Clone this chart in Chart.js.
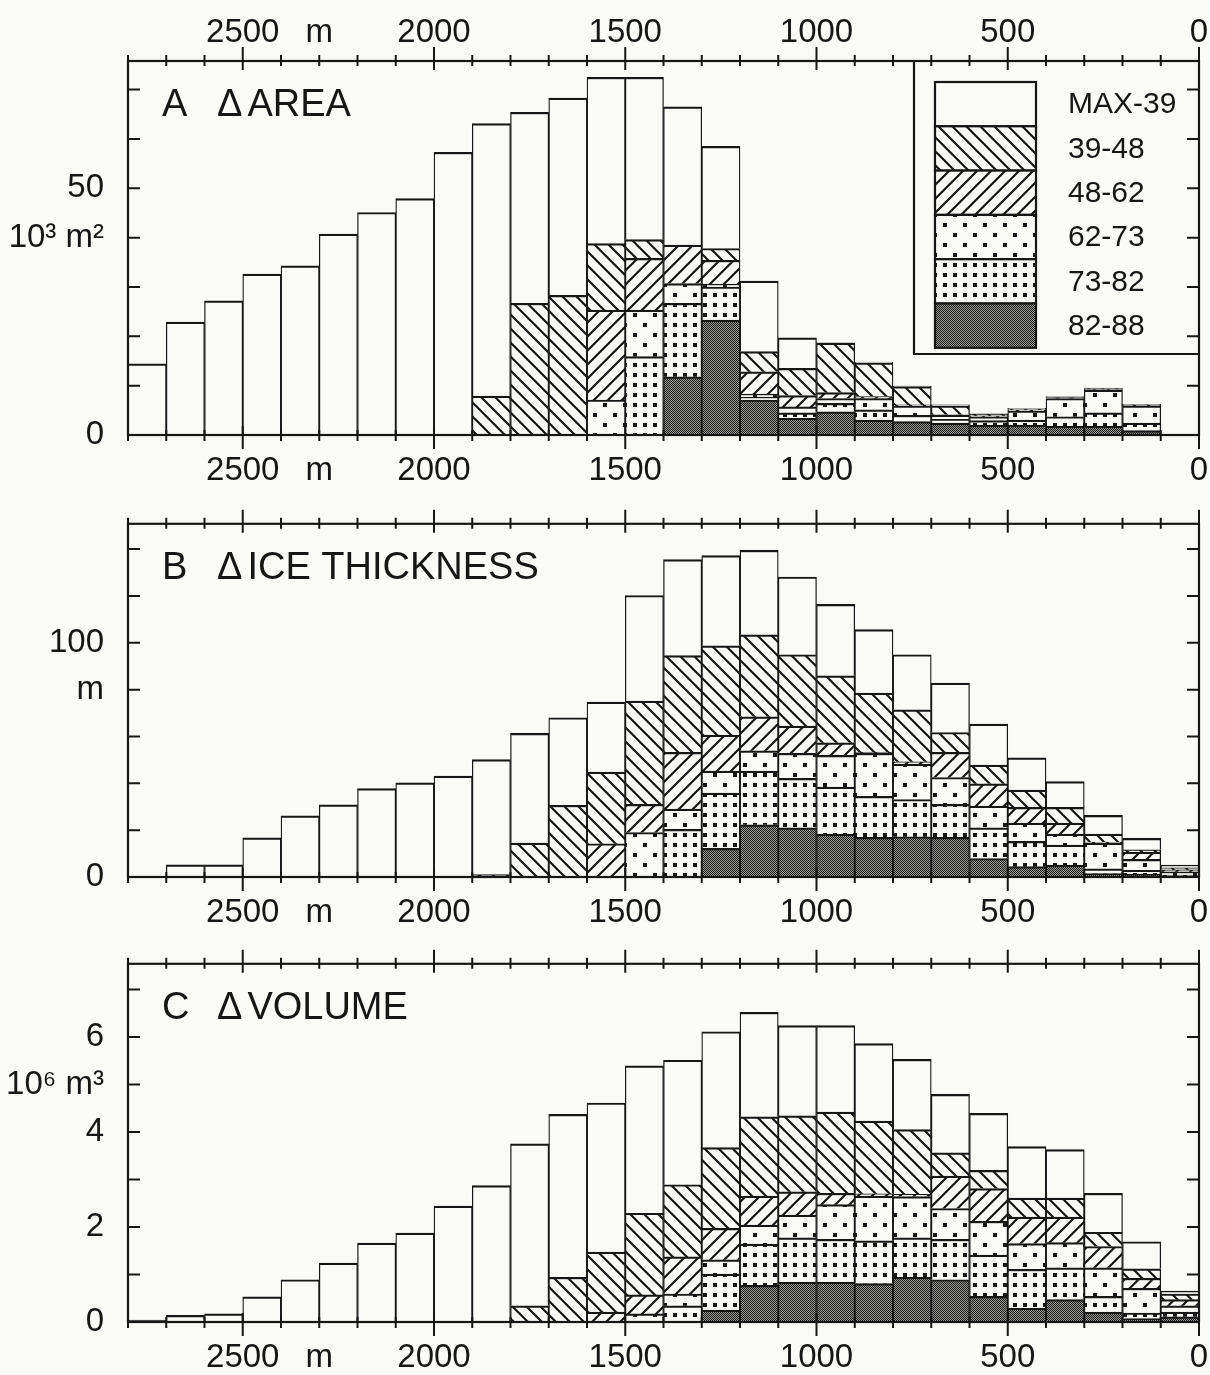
<!DOCTYPE html>
<html lang="en">
<head>
<meta charset="UTF-8" />
<title>Δ area, Δ ice thickness, Δ volume</title>
<style>
  body { margin: 0; background: #fafaf7; }
  #wrap { position: relative; width: 1210px; height: 1375px; }
  canvas { position: absolute; left: 0; }
</style>
</head>
<body>
<div id="wrap">
  <canvas id="chartA" width="1210" height="500" style="top:0"></canvas>
  <canvas id="chartB" width="1210" height="460" style="top:480px"></canvas>
  <canvas id="chartC" width="1210" height="455" style="top:920px"></canvas>
</div>

<script src="https://cdn.jsdelivr.net/npm/chart.js"></script>
<script>
// distance bins (centre of each 100 m band), stacked bottom -> top by period
const binCenters = [2750, 2650, 2550, 2450, 2350, 2250, 2150, 2050, 1950, 1850, 1750, 1650, 1550, 1450,
                    1350, 1250, 1150, 1050, 950, 850, 750, 650, 550, 450, 350, 250, 150, 50];
const periods = ['82-88', '73-82', '62-73', '48-62', '39-48', 'MAX-39'];

// A: change in area, 10^3 m^2
const area8288 = [0,0,0,0,0,0,0,0,0,0,0,0,0,0, 11.8, 23.3, 7.1, 3.4, 4.7, 3.0, 2.7, 2.4, 2.0, 2.0, 1.8, 1.8, 0.9, 0];
const area7382 = [0,0,0,0,0,0,0,0,0,0,0,0,0, 15.9, 14.9, 6.7, 0.6, 1.1, 1.7, 2.1, 1.3, 0.8, 0.9, 1.0, 1.9, 2.7, 1.5, 0];
const area6273 = [0,0,0,0,0,0,0,0,0,0,0,0, 7.1, 9.4, 4.0, 0.6, 0.6, 1.2, 1.0, 2.3, 1.9, 0.8, 0.8, 1.9, 3.7, 4.6, 3.5, 0];
const area4862 = [0,0,0,0,0,0,0,0,0,0,0,0, 18.2, 10.5, 7.8, 4.8, 4.5, 2.3, 1.2, 0.4, 0.2, 0.1, 0.2, 0.2, 0.2, 0.1, 0.1, 0];
const area3948 = [0,0,0,0,0,0,0,0,0, 7.9, 26.7, 28.3, 13.5, 3.8, 0, 2.4, 4.1, 5.5, 10.0, 6.8, 3.7, 1.8, 0.3, 0.2, 0.1, 0.2, 0.1, 0];
const areaMax39 = [14.4, 22.9, 27.2, 32.6, 34.3, 40.7, 45.1, 47.9, 57.3, 55.2, 38.7, 40.0, 33.7, 32.9,
                   28.0, 20.7, 14.3, 6.2, 0.1, 0.2, 0.1, 0.2, 0.1, 0.1, 0.1, 0.1, 0.1, 0];

// B: change in ice thickness, m
const thick8288 = [0,0,0,0,0,0,0,0,0,0,0,0,0,0,0, 12.2, 22.3, 21.0, 18.3, 16.9, 17.2, 16.9, 7.9, 4.4, 5.1, 1.5, 1.1, 0.3];
const thick7382 = [0,0,0,0,0,0,0,0,0,0,0,0,0,0, 20.3, 23.6, 22.9, 21.1, 20.1, 17.5, 15.9, 14.1, 13.1, 10.8, 8.5, 2.0, 1.7, 0.5];
const thick6273 = [0,0,0,0,0,0,0,0,0,0,0,0,0, 19.0, 8.7, 9.4, 8.7, 10.7, 13.5, 18.4, 15.1, 11.5, 9.3, 7.8, 4.7, 11.0, 4.7, 1.4];
const thick4862 = [0,0,0,0,0,0,0,0,0,0,0,0, 14.2, 12.0, 24.2, 15.4, 14.5, 11.6, 5.4, 0.5, 1.0, 10.7, 9.5, 6.7, 4.7, 0.4, 3.1, 0.9];
const thick3948 = [0,0,0,0,0,0,0,0,0, 1.0, 14.5, 30.6, 30.6, 44.1, 41.3, 38.1, 35.0, 30.5, 28.6, 25.2, 22.2, 8.5, 8.0, 7.4, 6.7, 3.4, 1.0, 0.8];
const thickMax39 = [0, 5.2, 5.2, 16.7, 26.1, 30.8, 37.7, 40.2, 43.1, 49.1, 46.8, 37.4, 29.9, 45.1,
                    41.0, 38.5, 36.1, 33.2, 30.5, 27.1, 23.5, 21.1, 17.5, 13.8, 11.0, 8.0, 4.9, 1.2];

// C: change in volume, 10^6 m^3
const vol8288 = [0,0,0,0,0,0,0,0,0,0,0,0,0,0,0, 0.25, 0.77, 0.84, 0.84, 0.81, 0.94, 0.89, 0.54, 0.29, 0.47, 0.21, 0.07, 0.11];
const vol7382 = [0,0,0,0,0,0,0,0,0,0,0,0,0,0, 0.34, 0.76, 0.87, 0.93, 0.90, 0.90, 0.83, 0.85, 0.87, 0.82, 0.67, 0.33, 0.12, 0.10];
const vol6273 = [0,0,0,0,0,0,0,0,0,0,0,0,0, 0.17, 0.25, 0.30, 0.40, 0.48, 0.73, 0.94, 0.87, 0.65, 0.71, 0.54, 0.53, 0.60, 0.52, 0.13];
const vol4862 = [0,0,0,0,0,0,0,0,0,0,0,0, 0.21, 0.40, 0.78, 0.66, 0.61, 0.49, 0.24, 0.05, 0.05, 0.68, 0.69, 0.56, 0.54, 0.45, 0.21, 0.13];
const vol3948 = [0,0,0,0,0,0,0,0,0,0, 0.34, 0.94, 1.26, 1.72, 1.52, 1.70, 1.67, 1.60, 1.71, 1.53, 1.36, 0.49, 0.38, 0.40, 0.40, 0.30, 0.20, 0.12];
const volMax39 = [0.04, 0.14, 0.17, 0.53, 0.89, 1.24, 1.66, 1.87, 2.44, 2.87, 3.41, 3.43, 3.14, 3.10,
                  2.62, 2.44, 2.20, 1.90, 1.82, 1.63, 1.48, 1.23, 1.20, 1.08, 1.02, 0.82, 0.57, 0.06];

// axis labels
const xLabelValues = [2500, 2300, 2000, 1500, 1000, 500, 0];
const xLabelText = ['2500', 'm', '2000', '1500', '1000', '500', '0'];
const areaTickValues = [0, 40, 50];
const areaTickText = ['0', '10³ m²', '50'];
const thickTickValues = [0, 80, 100];
const thickTickText = ['0', 'm', '100'];
const volTickValues = [0, 2, 4, 5, 6];
const volTickText = ['0', '2', '4', '10⁶ m³', '6'];

const INK = '#161616';
const PAPER = '#fafaf7';
const FONT = '"Liberation Sans", Arial, sans-serif';
const PLOT_RIGHT = 1199;

function makePatterns(ctx) {
  const tile = (w, h, draw) => {
    const c = document.createElement('canvas');
    c.width = w; c.height = h;
    const g = c.getContext('2d');
    g.fillStyle = PAPER; g.fillRect(0, 0, w, h);
    g.fillStyle = INK; g.strokeStyle = INK;
    draw(g, w, h);
    return ctx.createPattern(c, 'repeat');
  };
  const stipple = tile(4, 4, g => {
    g.fillStyle = '#9d9d9a'; g.fillRect(0, 0, 4, 4);
    g.fillStyle = '#1a1a1a';
    for (let y = 0; y < 4; y++) for (let x = 0; x < 4; x++) if ((x + y) % 2 === 0) g.fillRect(x, y, 1, 1);
  });
  const dense = tile(10, 10, g => g.fillRect(3, 3, 4, 4));
  const sparse = tile(20, 20, g => { g.fillRect(3, 3, 4, 4); g.fillRect(13, 13, 4, 4); });
  const hatch = dir => tile(14, 14, (g, s) => {
    g.lineWidth = 2.2;
    g.beginPath();
    for (let k = -1; k <= 1; k++) {
      if (dir > 0) { g.moveTo(-2, s + 2 + k * s); g.lineTo(s + 2, -2 + k * s); }
      else { g.moveTo(-2, -2 + k * s); g.lineTo(s + 2, s + 2 + k * s); }
    }
    g.stroke();
  });
  return [stipple, dense, sparse, hatch(1), hatch(-1), PAPER];
}

function makeDatasets(ctx, series) {
  const fills = makePatterns(ctx);
  return periods.map((p, i) => ({
    label: p,
    data: binCenters.map((x, j) => ({ x, y: series[i][j] })).filter(d => d.y > 0),
    backgroundColor: fills[i],
    borderColor: INK,
    borderWidth: { top: 2.2, bottom: 0, left: 1.3, right: 1.3 },
    borderSkipped: false,
    barPercentage: 1,
    categoryPercentage: 1
  }));
}

function xTickText(v) {
  const i = xLabelValues.indexOf(v);
  return i >= 0 ? xLabelText[i] : '';
}

// label distance comes from an invisible tick length, so it does not widen the side padding
function xAxis(position, height, gap, showLabels) {
  return {
    type: 'linear', position, reverse: true, min: 0, max: 2800, offset: false, stacked: true,
    grid: { display: false, drawTicks: true, tickLength: gap }, border: { display: false },
    ticks: { display: showLabels, stepSize: 100, autoSkip: false, maxRotation: 0, padding: 0, color: INK,
             font: { family: FONT, size: 33 }, callback: v => xTickText(v) },
    afterFit: s => { s.height = height; }
  };
}

// frame of each panel plus tick marks through the scales
const frame = {
  id: 'frame',
  afterDraw(chart) {
    const { ctx, chartArea: a, scales } = chart;
    ctx.save();
    ctx.strokeStyle = INK; ctx.lineWidth = 2.2;
    ctx.strokeRect(a.left, a.top, a.right - a.left, a.bottom - a.top);
    ctx.lineWidth = 2;
    ctx.beginPath();
    scales.x.ticks.forEach(t => {
      const px = scales.x.getPixelForValue(t.value);
      const big = t.value % 500 === 0;
      const out = big ? 14 : 6, inn = big ? 9 : 5;
      ctx.moveTo(px, a.bottom - inn); ctx.lineTo(px, a.bottom + out);
      ctx.moveTo(px, a.top + inn); ctx.lineTo(px, a.top - out);
    });
    scales.y.ticks.forEach(t => {
      if (t.value === 0) return;
      const py = scales.y.getPixelForValue(t.value);
      ctx.moveTo(a.left, py); ctx.lineTo(a.left + 12, py);
      ctx.moveTo(a.right, py); ctx.lineTo(a.right - 12, py);
    });
    ctx.stroke();
    ctx.restore();
  }
};

const panelTitle = {
  id: 'panelTitle',
  afterDraw(chart, args, opts) {
    const { ctx, chartArea: a } = chart;
    ctx.save();
    ctx.fillStyle = INK;
    ctx.font = `38px ${FONT}`;
    ctx.textBaseline = 'middle';
    const y = a.top + 45;
    ctx.fillText(opts.letter, a.left + 34, y);
    const dx = a.left + 89;
    ctx.fillText('\u0394', dx, y);
    ctx.fillText(opts.text, dx + ctx.measureText('\u0394').width + 5, y);
    ctx.restore();
  }
};

const legendBox = {
  id: 'legendBox',
  afterDatasetsDraw(chart, args, opts) {
    if (!opts.show) return;
    const { ctx, chartArea: a } = chart;
    const left = a.right - 285, bottom = a.top + 293;
    ctx.save();
    ctx.fillStyle = PAPER;
    ctx.fillRect(left, a.top, a.right - left, bottom - a.top);
    ctx.strokeStyle = INK; ctx.lineWidth = 2.2;
    ctx.beginPath();
    ctx.moveTo(left, a.top); ctx.lineTo(left, bottom); ctx.lineTo(a.right, bottom);
    ctx.stroke();
    const sx = a.right - 264, sw = 101, sy = a.top + 21, sh = 44.3;
    chart.data.datasets.slice().reverse().forEach((d, i) => {
      const y = sy + i * sh;
      ctx.fillStyle = d.backgroundColor;
      ctx.fillRect(sx, y, sw, sh);
      ctx.strokeRect(sx, y, sw, sh);
      ctx.fillStyle = INK;
      ctx.font = `30px ${FONT}`;
      ctx.textBaseline = 'middle';
      ctx.fillText(d.label, a.right - 131, y + sh / 2 + 1);
    });
    ctx.restore();
  }
};

function buildPanel(id, series, cfg) {
  const canvas = document.getElementById(id);
  const ctx = canvas.getContext('2d');
  const scales = {
    x: xAxis('bottom', cfg.xHeight, 16, true),
    xTop: xAxis('top', cfg.topHeight, 8, !!cfg.topLabels)
  };
  scales.y = {
    type: 'linear', stacked: true, min: 0, max: cfg.yMax,
    grid: { display: false, drawTicks: false }, border: { display: false },
    ticks: {
      stepSize: cfg.yStep, includeBounds: false, autoSkip: false, padding: 24, color: INK,
      font: { family: FONT, size: 33 },
      callback: v => { const i = cfg.yValues.indexOf(v); return i >= 0 ? cfg.yText[i] : ''; }
    },
    afterFit: s => { s.width = 128; }
  };
  const chart = new Chart(ctx, {
    type: 'bar',
    data: { datasets: makeDatasets(ctx, series) },
    options: {
      responsive: false, animation: false, devicePixelRatio: 1,
      layout: { padding: { top: 0, right: 11, left: 0, bottom: 0 } },
      plugins: {
        legend: { display: false }, tooltip: { enabled: false },
        panelTitle: { letter: cfg.letter, text: cfg.title },
        legendBox: { show: !!cfg.legend }
      },
      scales
    },
    plugins: [legendBox, frame, panelTitle]
  });
  // keep the frame's right edge at PLOT_RIGHT if label overflow moved it
  for (let k = 0; k < 3; k++) {
    const d = chart.chartArea.right - PLOT_RIGHT;
    if (Math.abs(d) < 0.5) break;
    chart.options.layout.padding.right = Math.max(0, chart.options.layout.padding.right + d);
    chart.update();
  }
  return chart;
}

buildPanel('chartA', [area8288, area7382, area6273, area4862, area3948, areaMax39], {
  letter: 'A', title: 'AREA', yMax: 75.8, yStep: 10, yValues: areaTickValues, yText: areaTickText,
  topHeight: 61, xHeight: 65, topLabels: true, legend: true
});
buildPanel('chartB', [thick8288, thick7382, thick6273, thick4862, thick3948, thickMax39], {
  letter: 'B', title: 'ICE THICKNESS', yMax: 150.8, yStep: 20, yValues: thickTickValues, yText: thickTickText,
  topHeight: 25, xHeight: 63
});
buildPanel('chartC', [vol8288, vol7382, vol6273, vol4862, vol3948, volMax39], {
  letter: 'C', title: 'VOLUME', yMax: 7.54, yStep: 1, yValues: volTickValues, yText: volTickText,
  topHeight: 25, xHeight: 53
});
</script>
</body>
</html>
